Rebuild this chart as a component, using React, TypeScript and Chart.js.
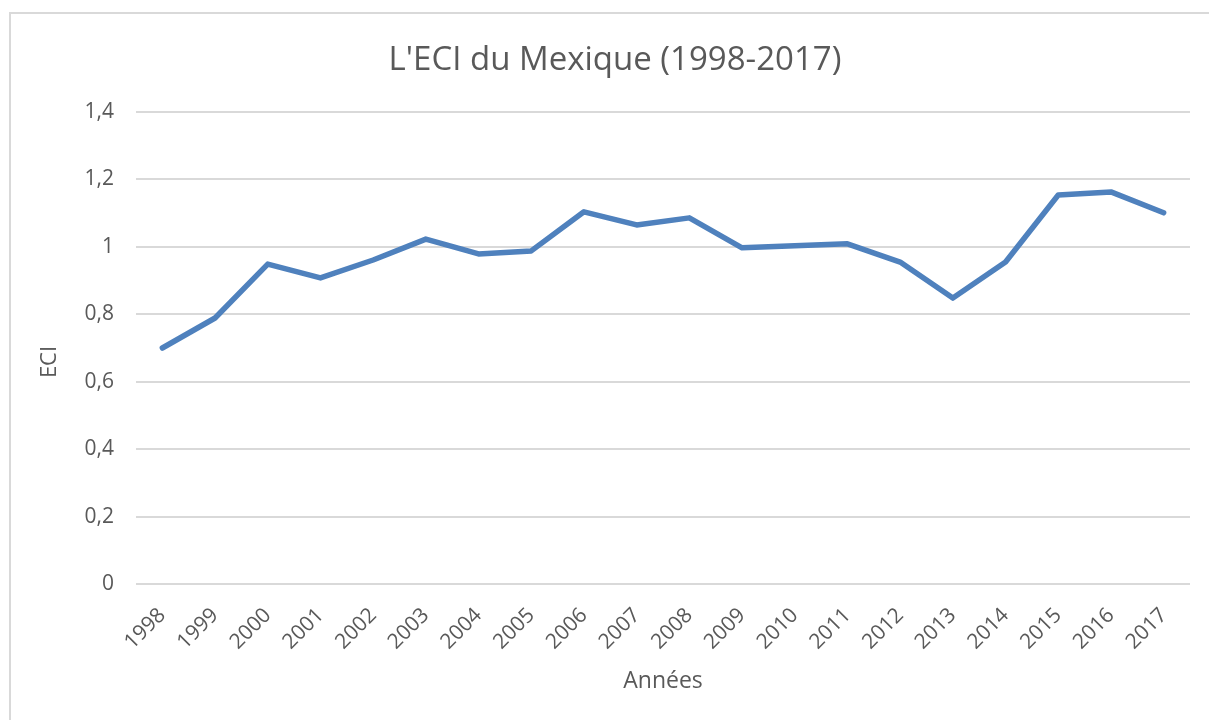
import React, { useEffect, useRef } from "react";
import { Chart, registerables } from "chart.js";

Chart.register(...registerables);

const years: string[] = [
  "1998", "1999", "2000", "2001", "2002", "2003", "2004", "2005", "2006", "2007",
  "2008", "2009", "2010", "2011", "2012", "2013", "2014", "2015", "2016", "2017",
];
const eciValues: number[] = [
  0.700, 0.789, 0.949, 0.908, 0.961, 1.023, 0.979, 0.988, 1.104, 1.065,
  1.086, 0.997, 1.003, 1.009, 0.955, 0.848, 0.955, 1.154, 1.163, 1.101,
];
const chartTitle = "L'ECI du Mexique (1998-2017)";
const xTitle = "Années";
const yTitle = "ECI";

const FONT = "'Open Sans', 'DejaVu Sans', sans-serif";
const TEXT = "#595959";
const GRID = "#d9d9d9";

const decorPlugin = {
  id: "decor",
  beforeDraw(chart: any) {
    const ctx = chart.ctx;
    ctx.save();
    ctx.fillStyle = "#ffffff";
    ctx.fillRect(0, 0, chart.width, chart.height);
    ctx.strokeStyle = GRID;
    ctx.lineWidth = 2;
    ctx.beginPath();
    ctx.moveTo(10, chart.height);
    ctx.lineTo(10, 13);
    ctx.lineTo(chart.width, 13);
    ctx.stroke();
    ctx.fillStyle = TEXT;
    ctx.font = `33px ${FONT}`;
    ctx.textAlign = "center";
    ctx.textBaseline = "alphabetic";
    ctx.fillText(chartTitle, 615, 70);
    ctx.translate(50, 362);
    ctx.rotate(-Math.PI / 2);
    ctx.font = `22px ${FONT}`;
    ctx.textBaseline = "middle";
    ctx.fillText(yTitle, 0, 0);
    ctx.restore();
  },
};

export default function App() {
  const ref = useRef<HTMLCanvasElement>(null);
  useEffect(() => {
    if (!ref.current) return;
    const chart = new Chart(ref.current, {
      type: "line",
      data: {
        labels: years,
        datasets: [
          {
            label: yTitle,
            data: eciValues,
            borderColor: "#4f81bd",
            backgroundColor: "#4f81bd",
            borderWidth: 5.5,
            pointRadius: 0,
            tension: 0,
            borderCapStyle: "round",
            borderJoinStyle: "round",
          },
        ],
      },
      options: {
        animation: false,
        responsive: false,
        layout: { padding: { top: 112, right: 19, bottom: 0, left: 0 } },
        plugins: {
          legend: { display: false },
          title: { display: false },
          tooltip: { enabled: false },
        },
        scales: {
          x: {
            offset: true,
            grid: { display: false, drawTicks: false },
            border: { display: false },
            ticks: {
              color: TEXT,
              font: { family: FONT, size: 21 },
              minRotation: 45,
              maxRotation: 45,
              padding: 19,
              autoSkip: false,
            },
            title: {
              display: true,
              text: xTitle,
              color: TEXT,
              font: { family: FONT, size: 23 },
              padding: { top: 0, bottom: 25 },
            },
            afterFit(scale: any) {
              scale.height = 136;
            },
          },
          y: {
            min: 0,
            max: 1.4,
            grid: { color: GRID, lineWidth: 2, drawTicks: false },
            border: { display: false },
            ticks: {
              stepSize: 0.2,
              color: TEXT,
              font: { family: FONT, size: 21 },
              padding: 22,
              callback: (v: any) => {
                const n = Math.round(Number(v) * 10) / 10;
                return String(n).replace(".", ",");
              },
            },
            title: { display: false },
            afterFit(scale: any) {
              scale.width = 136;
            },
          },
        },
      },
      plugins: [decorPlugin],
    });
    return () => chart.destroy();
  }, []);
  return (
    <div style={{ position: "absolute", left: 0, top: 0, width: 1209, height: 720, overflow: "hidden", background: "#fff" }}>
      <canvas ref={ref} width={1209} height={720} style={{ display: "block", width: 1209, height: 720 }} />
    </div>
  );
}
